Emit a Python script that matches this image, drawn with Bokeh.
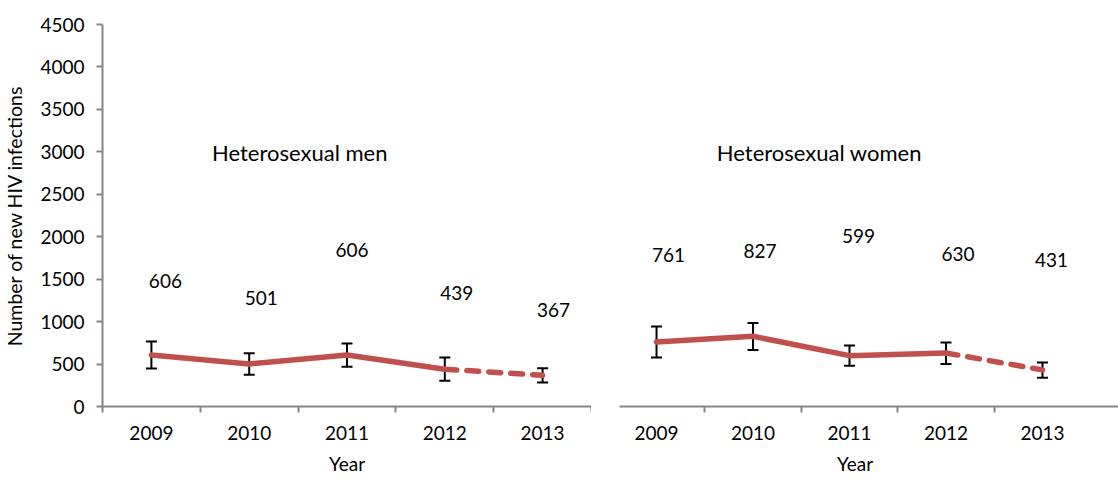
from bokeh.plotting import figure
from bokeh.layouts import row
from bokeh.models import Range1d, FixedTicker, Label, ColumnDataSource
from bokeh.core.properties import value
from bokeh.embed import file_html
from bokeh.resources import INLINE

# Estimated new HIV infections by year, with uncertainty ranges
years = ["2009", "2010", "2011", "2012", "2013"]

men = [606, 501, 606, 439, 367]
men_lower = [447, 373, 467, 302, 282]
men_upper = [765, 628, 741, 577, 451]

women = [761, 827, 599, 630, 431]
women_lower = [577, 667, 479, 502, 338]
women_upper = [941, 985, 718, 753, 518]

y_ticks = [0, 500, 1000, 1500, 2000, 2500, 3000, 3500, 4000, 4500]

# Where the value labels sit (heights in axis units, offsets in pixels)
men_label_heights = [1476, 1277, 1841, 1336, 1132]
men_label_dx = [14, 12, 5, 12, 11]
women_label_heights = [1790, 1830, 2005, 1794, 1722]
women_label_dx = [12, 7, 9, 12, 9]

FONT = "Lato"
RED = "#C0504D"
AXIS_GREY = "#868686"
H = 477
LEFT_W = 591


def panel(title, vals, lower, upper, label_heights, label_dx,
          x_range, x_bounds, minor, width, border_left, show_y, title_x):
    p = figure(width=width, height=H, output_backend="svg", toolbar_location=None,
               x_range=x_range, y_range=Range1d(0, 4500),
               min_border_left=border_left, min_border_right=0,
               min_border_top=24, min_border_bottom=70)
    p.outline_line_color = None
    p.grid.grid_line_color = None
    p.background_fill_color = "white"
    p.border_fill_color = "white"

    xs = list(range(len(years)))

    # error bars
    p.segment(x0=xs, y0=lower, x1=xs, y1=upper, line_color="black", line_width=2)
    p.scatter(x=xs + xs, y=lower + upper, marker="dash", size=11,
              line_color="black", line_width=2)

    # observed years solid, latest year dashed
    p.line(x=xs[:4], y=vals[:4], line_color=RED, line_width=5.5,
           line_cap="round", line_join="round")
    p.line(x=xs[3:], y=vals[3:], line_color=RED, line_width=5.5,
           line_dash="12 10", line_cap="round")

    src = ColumnDataSource(dict(x=xs, y=label_heights, dx=label_dx,
                                t=[str(v) for v in vals]))
    p.text(x="x", y="y", text="t", x_offset="dx", source=src,
           text_font=value(FONT), text_font_size="19px", text_color="black",
           text_align="center", text_baseline="middle")

    p.add_layout(Label(x=title_x, y=2993, text=title, text_font=FONT,
                       text_font_size="22px", text_color="black",
                       text_align="left", text_baseline="middle"))

    xa = p.xaxis[0]
    xa.bounds = x_bounds
    xa.ticker = FixedTicker(ticks=xs, minor_ticks=minor)
    xa.major_label_overrides = {i: y for i, y in enumerate(years)}
    xa.major_tick_out = 0
    xa.major_tick_in = 0
    xa.minor_tick_out = 6
    xa.minor_tick_in = 0
    xa.minor_tick_line_color = AXIS_GREY
    xa.minor_tick_line_width = 2
    xa.axis_line_color = AXIS_GREY
    xa.axis_line_width = 2
    xa.major_label_text_font = FONT
    xa.major_label_text_font_size = "19px"
    xa.major_label_text_color = "black"
    xa.major_label_standoff = 13
    xa.axis_label = "Year"
    xa.axis_label_text_font = FONT
    xa.axis_label_text_font_size = "19px"
    xa.axis_label_text_font_style = "normal"
    xa.axis_label_text_color = "black"
    xa.axis_label_standoff = 9

    ya = p.yaxis[0]
    if show_y:
        ya.ticker = FixedTicker(ticks=y_ticks, minor_ticks=[])
        ya.axis_label = "Number of new HIV infections"
        ya.axis_label_text_font = FONT
        ya.axis_label_text_font_size = "19.5px"
        ya.axis_label_text_font_style = "normal"
        ya.axis_label_text_color = "black"
        ya.axis_label_standoff = 11
        ya.major_tick_out = 6
        ya.major_tick_in = 0
        ya.minor_tick_out = 0
        ya.minor_tick_in = 0
        ya.major_tick_line_color = AXIS_GREY
        ya.major_tick_line_width = 2
        ya.axis_line_color = AXIS_GREY
        ya.axis_line_width = 2
        ya.major_label_text_font = FONT
        ya.major_label_text_font_size = "19px"
        ya.major_label_text_color = "black"
        ya.major_label_standoff = 12
    else:
        ya.visible = False
    return p


left = panel("Heterosexual men", men, men_lower, men_upper,
             men_label_heights, men_label_dx,
             Range1d(-0.5, 4.5), (-0.5, 4.5), [-0.5, 0.5, 1.5, 2.5, 3.5, 4.5],
             width=LEFT_W, border_left=101, show_y=True, title_x=0.62)
right = panel("Heterosexual women", women, women_lower, women_upper,
              women_label_heights, women_label_dx,
              Range1d(-0.674, 4.788), (-0.383, 4.788), [0.5, 1.5, 2.5, 3.5],
              width=1118 - LEFT_W, border_left=0, show_y=False, title_x=0.625)

layout = row(left, right, spacing=0)
open("out.html", "w").write(file_html(layout, INLINE))
